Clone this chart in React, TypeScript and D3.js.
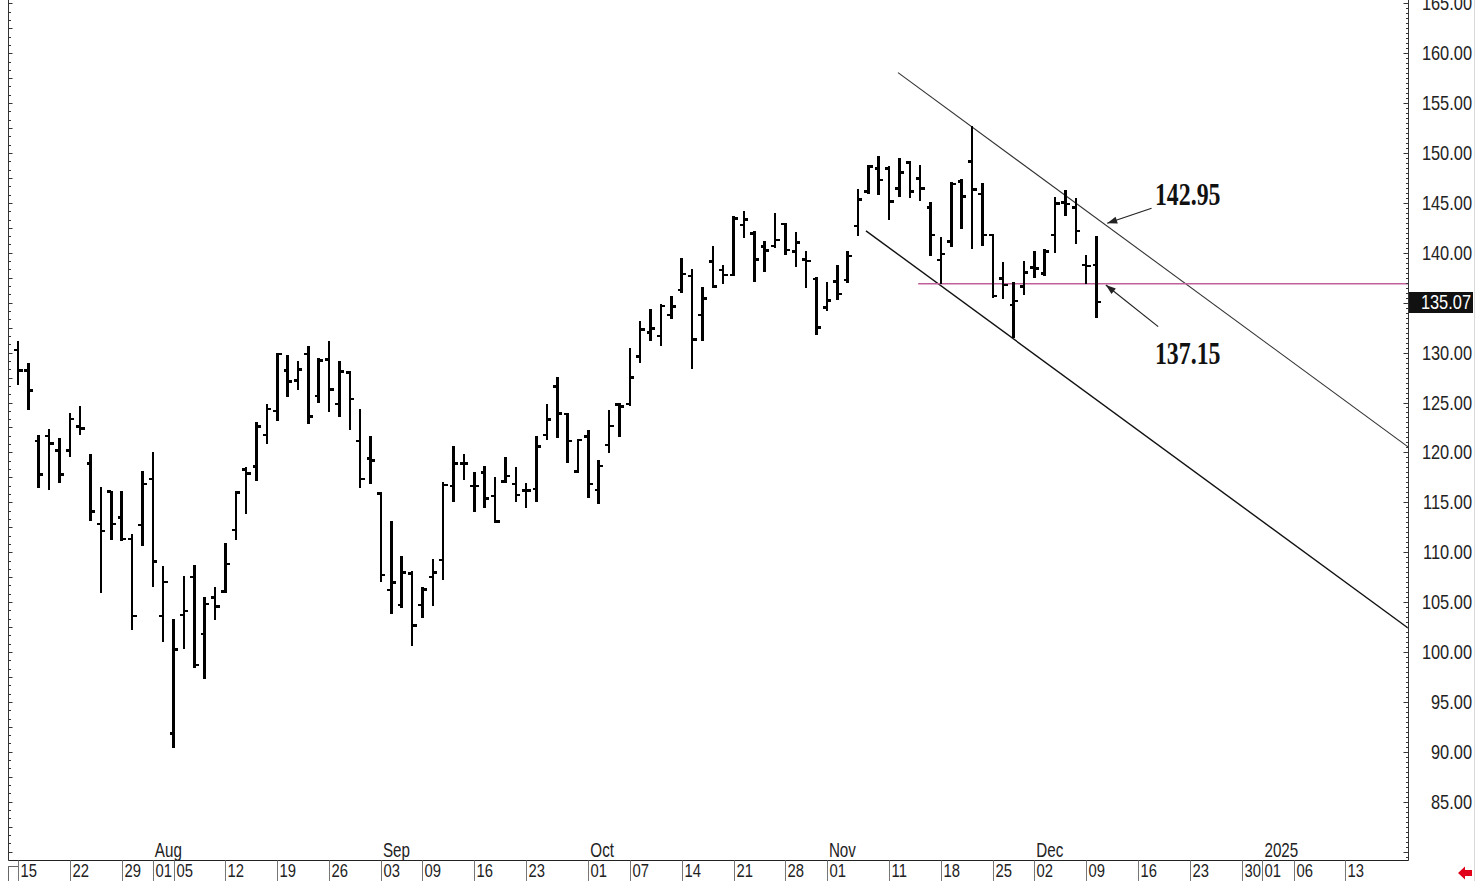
import React from "react";
import * as d3 from "d3";

// ---- Data (OHLC, trading days from 2024-07-15) ----
const opens = [130.26,128.2,121.14,121.64,120.17,120.17,122.58,118.9,112.83,116.06,113.5,111.32,112.73,117.33,103.6,91.85,103.7,107.54,101.8,105.44,106.04,112.22,118.3,118.57,121.74,124.15,128.19,127.18,129.86,125.65,129.33,124.85,127.99,121.14,119.41,115.9,106.21,104.71,107.88,104.71,107.54,109.22,116.63,118.91,116.63,117.97,115.63,117.06,116.83,116.17,116.33,121.74,126.58,123.85,118.07,121.57,116.23,120.74,124.82,124.85,129.6,132.0,131.66,133.77,136.27,137.68,133.77,139.11,138.28,137.78,142.79,141.95,140.61,140.68,142.89,140.11,139.35,137.37,134.54,137.1,137.27,142.69,146.12,148.47,148.47,146.46,149.03,147.46,144.56,139.28,141.11,147.12,149.13,145.89,141.78,137.44,134.77,136.6,138.55,137.95,141.78,145.02,144.56,138.78,138.78];
const highs = [131.1,128.83,121.64,122.2,121.34,123.85,124.52,119.74,116.4,116.06,116.06,111.72,118.07,119.97,108.49,103.2,107.54,108.62,105.38,106.38,110.82,116.06,118.4,122.98,124.75,129.86,129.66,129.09,130.53,129.33,131.03,129.03,128.09,124.25,121.57,115.9,113.06,109.49,107.98,106.38,109.22,116.97,120.57,119.74,117.97,118.57,117.47,119.47,118.4,116.83,121.57,124.75,127.42,123.85,121.24,122.14,119.14,124.18,124.82,130.4,133.1,134.27,134.77,135.54,139.35,138.28,136.44,140.61,138.68,143.56,144.12,142.11,141.11,143.86,142.89,141.95,140.05,137.44,137.0,138.68,140.11,146.29,148.7,149.57,148.63,149.37,149.13,148.7,145.02,141.45,146.96,147.29,152.58,146.89,141.78,139.01,136.94,139.11,140.11,140.28,145.46,146.22,145.36,139.68,141.55];
const lows = [126.9,124.35,116.5,116.33,117.06,119.64,121.84,113.23,106.04,111.32,111.22,102.3,110.72,106.6,101.13,90.51,100.37,98.53,97.36,103.28,106.04,111.29,113.9,117.23,120.91,123.25,125.65,126.35,122.92,125.08,124.18,123.65,122.35,116.5,116.97,107.14,103.88,104.54,100.7,103.48,104.71,107.29,115.13,117.3,114.16,114.56,113.06,117.06,115.13,114.56,115.13,121.31,121.57,119.0,118.07,115.56,114.9,120.07,121.64,124.8,129.1,131.26,130.76,133.44,136.1,128.43,131.26,136.54,136.94,137.78,141.55,137.2,138.18,140.61,139.88,138.68,136.6,131.86,134.27,135.34,137.1,141.78,146.02,145.89,143.36,145.69,145.62,145.29,139.78,136.94,140.68,142.45,140.45,140.78,135.6,135.44,131.59,135.87,137.54,137.78,140.11,143.79,140.99,136.94,133.6];
const closes = [128.19,126.19,117.8,120.9,117.8,123.35,122.41,114.06,112.12,112.83,111.32,103.6,116.83,109.05,107.04,100.27,104.1,98.7,104.81,104.54,108.82,116.0,117.9,122.58,124.35,129.86,127.1,128.33,123.58,129.19,126.32,128.09,125.35,117.33,119.17,107.72,106.94,107.98,102.64,106.28,107.95,116.73,118.91,118.91,116.63,115.4,113.06,117.64,115.73,116.17,120.57,123.31,123.92,121.14,121.24,116.83,118.64,122.65,124.6,127.5,132.3,132.43,134.67,134.6,137.88,131.33,135.44,136.6,137.78,143.46,143.36,139.35,140.21,141.28,140.28,141.01,139.18,132.53,135.2,135.87,139.68,145.36,148.63,147.29,145.12,148.03,146.12,146.46,141.78,139.88,146.89,145.62,146.36,141.78,135.67,136.77,135.17,138.01,138.45,140.11,144.96,144.89,142.18,138.68,135.07];

const holidays = ["2024-09-02", "2024-11-28"];
const tickDates = ["2024-07-15","2024-07-22","2024-07-29","2024-08-01","2024-08-05","2024-08-12","2024-08-19","2024-08-26","2024-09-03","2024-09-09","2024-09-16","2024-09-23","2024-10-01","2024-10-07","2024-10-14","2024-10-21","2024-10-28","2024-11-01","2024-11-11","2024-11-18","2024-11-25","2024-12-02","2024-12-09","2024-12-16","2024-12-23","2024-12-30","2025-01-01","2025-01-06","2025-01-13"];
const monthDates = ["2024-08-01","2024-09-03","2024-10-01","2024-11-01","2024-12-02","2025-01-01"];
const monthLabels = ["Aug","Sep","Oct","Nov","Dec","2025"];
const priceLabels = [85,90,95,100,105,110,115,120,125,130,135,140,145,150,155,160,165];
const lastPrice = 135.07;
const supportLevel = 136.9;
// trend channel anchors: [trading-day index, price]
const upperChannel = [[84.86, 158.05], [134.04, 120.55]];
const lowerChannel = [[81.77, 142.2], [134.04, 102.4]];
// annotations: text, text anchor [idx, price], arrow tail, arrow tip
const annoTexts = ["142.95", "137.15"];
const annoTextPos = [[109.63, 144.79], [109.63, 128.86]];
const annoTails = [[109.31, 144.46], [109.95, 132.6]];
const annoTips = [[105.03, 142.96], [104.9, 136.77]];

const fmt = d3.timeFormat("%Y-%m-%d");
function buildCalendar() {
  const out: string[] = [];
  const d = new Date(2024, 6, 15);
  const end = new Date(2025, 0, 24);
  while (d <= end) {
    const wd = d.getDay();
    const s = fmt(d);
    if (wd !== 0 && wd !== 6 && !holidays.includes(s)) out.push(s);
    d.setDate(d.getDate() + 1);
  }
  return out;
}
const calendar = buildCalendar();
const idxOf = (s: string) => calendar.indexOf(s);

const W = 1478, H = 881;
const PL = 8.5, PR = 1408.5, PB = 860.5;

export default function App() {
  const x = d3.scaleLinear().domain([0, 128]).range([18, 1345.4]);
  const y = d3.scaleLinear().domain([79.16, 165.33]).range([860, 0]);

  const fontSans = "'Liberation Sans', Arial, sans-serif";
  const fontSerif = "'Liberation Serif', 'Times New Roman', serif";

  const leftTicks = d3.range(Math.ceil(79.2 * 1.2), Math.floor(165.3 * 1.2) + 1).map(k => ({ v: k / 1.2, major: k % 3 === 0 }));
  const rightTicks = d3.range(Math.ceil(79.2 * 2), Math.floor(165.3 * 2) + 1).map(k => ({ v: k / 2, major: k % 10 === 0 }));

  const arrowHead = (tail: number[], tip: number[]) => {
    const tx = x(tip[0]), ty = y(tip[1]);
    const sx = x(tail[0]), sy = y(tail[1]);
    const ang = Math.atan2(ty - sy, tx - sx);
    const len = 10, wid = 3.5;
    const bx = tx - len * Math.cos(ang), by = ty - len * Math.sin(ang);
    const px = -Math.sin(ang) * wid, py = Math.cos(ang) * wid;
    return `M${tx},${ty}L${bx + px},${by + py}L${bx - px},${by - py}Z`;
  };

  return (
    <svg width={W} height={H} style={{ position: "absolute", left: 0, top: 0, background: "#fff" }}>
      <rect x={0} y={0} width={W} height={H} fill="#fff" />
      {/* faint right border */}
      <line x1={1474.5} x2={1474.5} y1={0} y2={H} stroke="#d8d8d8" strokeWidth={1} />

      {/* channel lines */}
      <line x1={x(upperChannel[0][0])} y1={y(upperChannel[0][1])} x2={x(upperChannel[1][0])} y2={y(upperChannel[1][1])} stroke="#333" strokeWidth={1.1} />
      <line x1={x(lowerChannel[0][0])} y1={y(lowerChannel[0][1])} x2={x(lowerChannel[1][0])} y2={y(lowerChannel[1][1])} stroke="#111" strokeWidth={1.4} />

      {/* support line */}
      <line x1={x(86.8)} x2={PR} y1={y(supportLevel)} y2={y(supportLevel)} stroke="#c0609a" strokeWidth={1.5} />

      {/* OHLC bars */}
      <g stroke="#000" strokeWidth={2.5} shapeRendering="crispEdges">
        {opens.map((o, i) => {
          const cx = x(i);
          return (
            <g key={i}>
              <line x1={cx} x2={cx} y1={y(highs[i]) - 1} y2={y(lows[i]) + 1} />
              <line x1={cx - 4} x2={cx} y1={y(o)} y2={y(o)} />
              <line x1={cx} x2={cx + 4.5} y1={y(closes[i])} y2={y(closes[i])} />
            </g>
          );
        })}
      </g>

      {/* annotations */}
      {annoTexts.map((t, i) => (
        <g key={t}>
          <line x1={x(annoTails[i][0])} y1={y(annoTails[i][1])} x2={x(annoTips[i][0])} y2={y(annoTips[i][1])} stroke="#222" strokeWidth={1.2} />
          <path d={arrowHead(annoTails[i], annoTips[i])} fill="#222" />
          <text transform={`translate(${x(annoTextPos[i][0])},${y(annoTextPos[i][1])}) scale(0.77,1)`} fontFamily={fontSerif} fontWeight="bold" fontSize={31} fill="#111">{t}</text>
        </g>
      ))}

      {/* left axis */}
      <line x1={PL} x2={PL} y1={0} y2={PB} stroke="#333" strokeWidth={1} />
      {leftTicks.map((t, i) => (
        <line key={i} x1={PL} x2={PL + (t.major ? 4 : 2.5)} y1={Math.round(y(t.v)) + 0.5} y2={Math.round(y(t.v)) + 0.5} stroke="#333" strokeWidth={1} />
      ))}

      {/* right axis */}
      <line x1={PR} x2={PR} y1={0} y2={PB} stroke="#333" strokeWidth={1} />
      {rightTicks.map((t, i) => (
        <line key={i} x1={PR - (t.major ? 5 : 2.5)} x2={PR} y1={Math.round(y(t.v)) + 0.5} y2={Math.round(y(t.v)) + 0.5} stroke="#333" strokeWidth={1} />
      ))}
      {priceLabels.map(v => (
        <text key={v} transform={`translate(1472,${y(v) + 7}) scale(0.82,1)`} textAnchor="end" fontFamily={fontSans} fontSize={20} fill="#222">{v.toFixed(2)}</text>
      ))}
      <rect x={1409} y={y(lastPrice) - 10} width={64} height={21} fill="#111" />
      <text transform={`translate(1471,${y(lastPrice) + 7}) scale(0.82,1)`} textAnchor="end" fontFamily={fontSans} fontSize={20} fill="#fff">{lastPrice.toFixed(2)}</text>

      {/* bottom axis */}
      <line x1={PL} x2={PR} y1={PB} y2={PB} stroke="#222" strokeWidth={1} />
      <rect x={8.5} y={866.5} width={10} height={20} fill="none" stroke="#666" strokeWidth={1} />
      {tickDates.map((s, i) => {
        const cx = Math.round(x(idxOf(s))) + 0.5;
        return (
          <g key={s + i}>
            <line x1={cx} x2={cx} y1={PB} y2={H} stroke="#777" strokeWidth={1} />
            <text transform={`translate(${cx + 2},877) scale(0.78,1)`} fontFamily={fontSans} fontSize={19} fill="#222">{s.slice(8, 10)}</text>
          </g>
        );
      })}
      {monthDates.map((s, i) => (
        <text key={s} transform={`translate(${x(idxOf(s)) + 2},857) scale(0.76,1)`} fontFamily={fontSans} fontSize={20} fill="#222">{monthLabels[i]}</text>
      ))}

      {/* red arrow */}
      <path d="M1458,873 L1465,866.5 L1465,870 L1472,870 L1472,876 L1465,876 L1465,879.5 Z" fill="#e0001a" />
    </svg>
  );
}
